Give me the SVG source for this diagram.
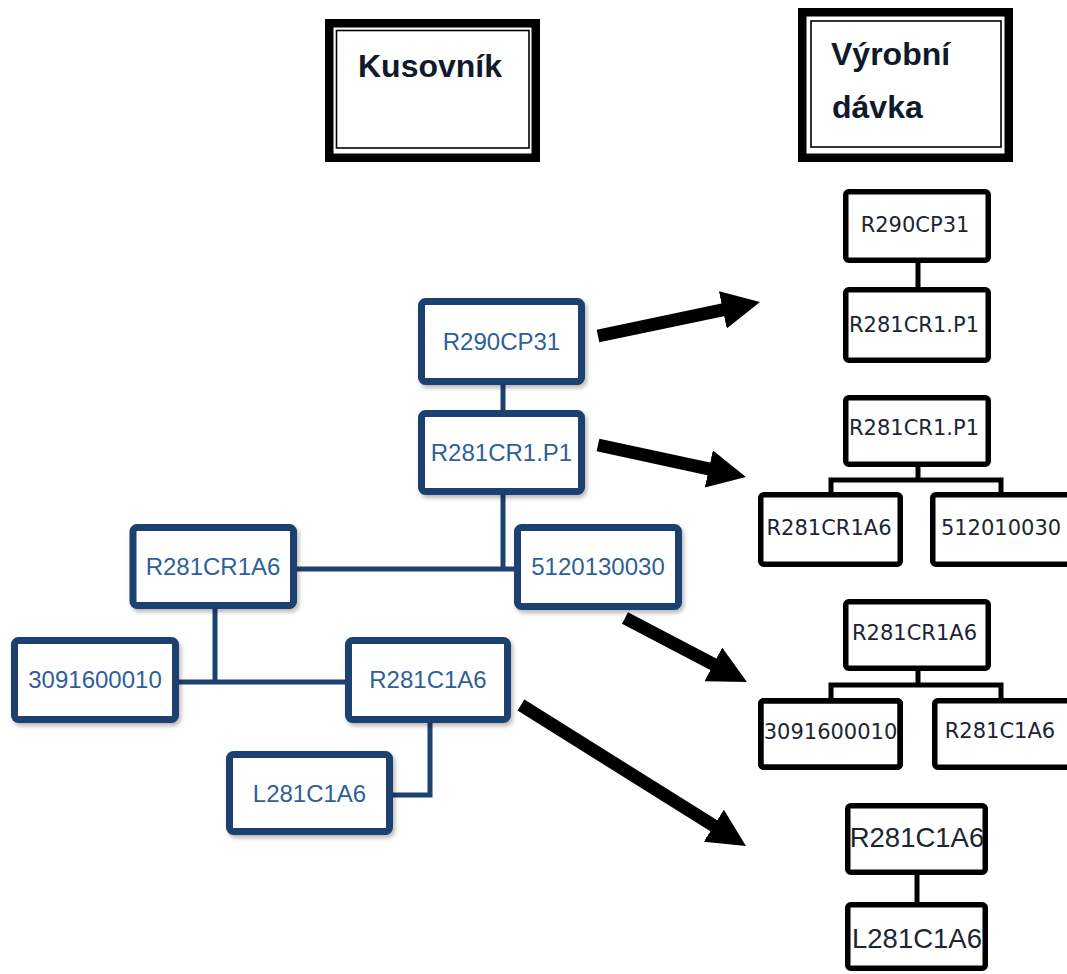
<svg xmlns="http://www.w3.org/2000/svg" width="1067" height="974" viewBox="0 0 1067 974">
  <defs>
    <filter id="soft" x="-10%" y="-10%" width="130%" height="140%">
      <feDropShadow dx="2" dy="3" stdDeviation="2" flood-color="#000" flood-opacity="0.28"/>
    </filter>
    <marker id="head" markerUnits="userSpaceOnUse" markerWidth="40" markerHeight="40" refX="1" refY="19" orient="auto">
      <path d="M0,0 L38,19 L0,38 Z" fill="#000"/>
    </marker>
  </defs>
  <style>
    .title-outer { fill: #fff; stroke: #000; stroke-width: 8.5; }
    .title-inner { fill: none; stroke: #000; stroke-width: 1.6; }
    .title { font-family: "Liberation Sans", Arial, sans-serif; font-weight: bold; font-size: 32px; fill: #0f1a2a; }
    .bom { fill: #fff; stroke: #1d4170; stroke-width: 7; filter: url(#soft); }
    .bom-text { font-family: "Liberation Sans", Arial, sans-serif; font-size: 24px; fill: #2f5f98; text-anchor: middle; }
    .bom-link { fill: none; stroke: #1d4170; stroke-width: 5; }
    .batch { fill: #fff; stroke: #000; stroke-width: 5.5; }
    .batch-edge { fill: none; stroke: #000; stroke-width: 5.5; }
    .batch-text { font-family: "DejaVu Sans", Verdana, sans-serif; font-size: 21px; fill: #1b2533; text-anchor: middle; }
    .batch-big { font-family: "Liberation Sans", Arial, sans-serif; font-size: 27.5px; fill: #1b2533; text-anchor: middle; }
    .batch-link { fill: none; stroke: #000; stroke-width: 5; }
    .flow { fill: none; stroke: #000; stroke-width: 13; marker-end: url(#head); }
  </style>

  <rect width="1067" height="974" fill="#fff"/>

  <!-- column headings -->
  <g id="head-kusovnik">
    <rect class="title-outer" x="329.25" y="23.25" width="206.5" height="134.5"/>
    <rect class="title-inner" x="336.5" y="30.5" width="192.5" height="117.5"/>
    <text class="title" x="358" y="77">Kusovník</text>
  </g>
  <g id="head-davka">
    <rect class="title-outer" x="802.25" y="12.25" width="206.5" height="145.5"/>
    <rect class="title-inner" x="811" y="21" width="190" height="126"/>
    <text class="title" x="831" y="65">Výrobní</text>
    <text class="title" x="832" y="118">dávka</text>
  </g>

  <!-- bill of materials tree: connectors -->
  <g id="bom-links">
    <path class="bom-link" d="M503,385 V410"/>
    <path class="bom-link" d="M503,495 V569"/>
    <path class="bom-link" d="M297,569 H514"/>
    <path class="bom-link" d="M215,609 V682"/>
    <path class="bom-link" d="M179,682 H345"/>
    <path class="bom-link" d="M430,723 V795 H393"/>
  </g>

  <!-- bill of materials tree: nodes -->
  <g id="bom-r290cp31">
    <rect class="bom" x="421.5" y="301.5" width="160" height="80" rx="4"/>
    <text class="bom-text" x="501.5" y="350">R290CP31</text>
  </g>
  <g id="bom-r281cr1p1">
    <rect class="bom" x="421.5" y="413.5" width="160" height="78" rx="4"/>
    <text class="bom-text" x="501.5" y="461">R281CR1.P1</text>
  </g>
  <g id="bom-r281cr1a6">
    <rect class="bom" x="133" y="527.5" width="160.5" height="78" rx="4"/>
    <text class="bom-text" x="213" y="575">R281CR1A6</text>
  </g>
  <g id="bom-5120130030">
    <rect class="bom" x="517.5" y="527.5" width="161" height="79" rx="4"/>
    <text class="bom-text" x="598" y="575">5120130030</text>
  </g>
  <g id="bom-3091600010">
    <rect class="bom" x="14.5" y="640.5" width="161" height="79" rx="4"/>
    <text class="bom-text" x="95" y="688">3091600010</text>
  </g>
  <g id="bom-r281c1a6">
    <rect class="bom" x="348.5" y="640.5" width="159" height="79" rx="4"/>
    <text class="bom-text" x="428" y="688">R281C1A6</text>
  </g>
  <g id="bom-l281c1a6">
    <rect class="bom" x="229.5" y="754.5" width="160" height="77" rx="4"/>
    <text class="bom-text" x="309.5" y="802">L281C1A6</text>
  </g>

  <!-- arrows from the tree to the production batches -->
  <g id="flows">
    <line class="flow" x1="598" y1="336" x2="723.8" y2="309.6"/>
    <line class="flow" x1="598" y1="445" x2="709.8" y2="469.2"/>
    <line class="flow" x1="625" y1="618" x2="714.2" y2="664.8"/>
    <line class="flow" x1="521" y1="705" x2="714.6" y2="826.3"/>
  </g>

  <!-- production batch connectors -->
  <g id="batch-links">
    <path class="batch-link" d="M918,263 V287"/>
    <path class="batch-link" d="M918,467 V480 M831,493 V480 H1001 V493"/>
    <path class="batch-link" d="M918,671 V685 M831,699 V685 H1001 V699"/>
    <path class="batch-link" d="M917,875 V902"/>
  </g>

  <!-- batch 1 -->
  <g id="batch1-r290cp31">
    <rect class="batch" x="845.75" y="191.75" width="142.5" height="68.5" rx="3"/>
    <text class="batch-text" x="915" y="232">R290CP31</text>
  </g>
  <g id="batch1-r281cr1p1">
    <rect class="batch" x="845.75" y="289.75" width="142.5" height="70.5" rx="3"/>
    <text class="batch-text" x="914" y="332">R281CR1.P1</text>
  </g>

  <!-- batch 2 -->
  <g id="batch2-r281cr1p1">
    <rect class="batch" x="845.75" y="397.75" width="142.5" height="66.5" rx="3"/>
    <text class="batch-text" x="914" y="435">R281CR1.P1</text>
  </g>
  <g id="batch2-r281cr1a6">
    <rect class="batch" x="760.75" y="494.75" width="139.5" height="69.5" rx="3"/>
    <text class="batch-text" x="829" y="535">R281CR1A6</text>
  </g>
  <g id="batch2-512010030">
    <rect class="batch" x="932.75" y="494.75" width="139.5" height="69.5" rx="3"/>
    <text class="batch-text" x="1001" y="535">512010030</text>
  </g>

  <!-- batch 3 -->
  <g id="batch3-r281cr1a6">
    <rect class="batch" x="845.75" y="601.75" width="142.5" height="66.5" rx="3"/>
    <text class="batch-text" x="914.5" y="640">R281CR1A6</text>
  </g>
  <g id="batch3-3091600010">
    <rect class="batch" x="760.75" y="700.75" width="139.5" height="66.5" rx="3"/>
    <text class="batch-text" x="830.5" y="738.5">3091600010</text>
    <rect class="batch-edge" x="760.75" y="700.75" width="139.5" height="66.5" rx="3"/>
  </g>
  <g id="batch3-r281c1a6">
    <rect class="batch" x="934.75" y="700.75" width="139.5" height="66.5" rx="3"/>
    <text class="batch-text" x="1000" y="738">R281C1A6</text>
  </g>

  <!-- batch 4 -->
  <g id="batch4-r281c1a6">
    <rect class="batch" x="847.75" y="805.75" width="137.5" height="66.5" rx="3"/>
    <text class="batch-big" x="917" y="847">R281C1A6</text>
  </g>
  <g id="batch4-l281c1a6">
    <rect class="batch" x="847.75" y="904.75" width="137.5" height="63.5" rx="3"/>
    <text class="batch-big" x="917" y="948">L281C1A6</text>
  </g>
</svg>
